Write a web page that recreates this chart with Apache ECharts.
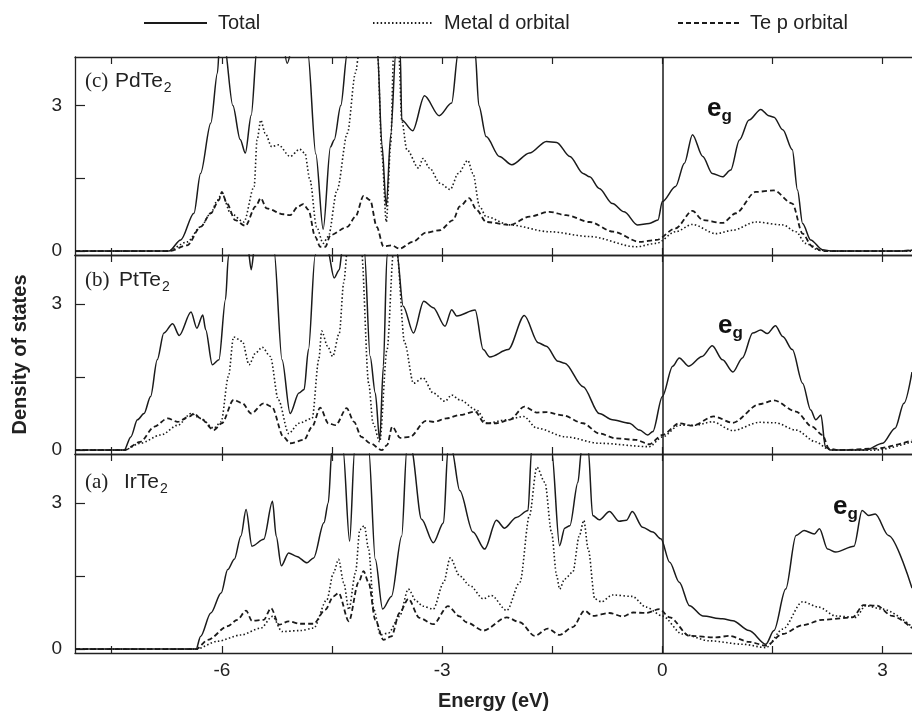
<!DOCTYPE html>
<html>
<head>
<meta charset="utf-8">
<script src="https://cdn.jsdelivr.net/npm/echarts@6/dist/echarts.min.js"></script>
<style>
  html, body { margin: 0; padding: 0; background: #fff; }
  #chart { width: 912px; height: 715px; }
</style>
</head>
<body>
<div id="chart"></div>
<script>
// --- data: [energy (eV), DOS] ---
var pdTotal = [[-8,0],[-6.72,0],[-6.56,0.23],[-6.38,0.78],[-6.29,1.6],[-6.15,2.64],[-6.06,3.67],[-6.02,4.6],[-5.99,5],[-5.97,4.3],[-5.85,3.0],[-5.75,2.3],[-5.68,2.02],[-5.6,2.8],[-5.52,4.2],[-5.4,5.5],[-5.2,4.6],[-5.11,3.87],[-5.0,4.5],[-4.9,5],[-4.83,4.1],[-4.72,2.0],[-4.62,0.45],[-4.52,2.15],[-4.47,2.29],[-4.38,3.0],[-4.29,4.1],[-4.1,6],[-3.88,4.1],[-3.82,2.2],[-3.76,0.92],[-3.7,2.4],[-3.63,4.1],[-3.6,5],[-3.57,4.1],[-3.55,2.7],[-3.4,2.48],[-3.24,3.2],[-3.04,2.79],[-2.87,3.05],[-2.78,4.1],[-2.7,5],[-2.55,4.1],[-2.5,3.0],[-2.4,2.36],[-2.22,1.95],[-2.05,1.78],[-1.81,2.02],[-1.58,2.26],[-1.44,2.24],[-1.26,1.95],[-1.08,1.6],[-0.99,1.53],[-0.86,1.29],[-0.68,0.98],[-0.52,0.81],[-0.34,0.54],[-0.18,0.57],[-0.06,0.64],[0,1.02],[0.18,1.33],[0.3,1.81],[0.41,2.4],[0.55,1.95],[0.68,1.6],[0.82,1.53],[0.93,1.67],[1.05,2.29],[1.18,2.7],[1.34,2.92],[1.45,2.79],[1.52,2.76],[1.64,2.5],[1.77,2.09],[1.84,1.26],[1.91,0.57],[2.02,0.23],[2.18,0.03],[2.31,0],[3.2,0],[3.4,0.02]];
var pdMetal = [[-8,0],[-6.74,0],[-6.47,0.19],[-6.29,0.5],[-6.15,0.78],[-6.06,1.05],[-6.0,1.19],[-5.88,0.78],[-5.7,0.6],[-5.56,1.33],[-5.52,2.29],[-5.47,2.7],[-5.41,2.43],[-5.32,2.15],[-5.23,2.19],[-5.07,1.95],[-4.94,2.1],[-4.87,2.02],[-4.8,1.47],[-4.71,0.5],[-4.62,0.16],[-4.55,0.3],[-4.43,1.26],[-4.29,2.43],[-4.18,3.67],[-4.13,4.1],[-4.0,5.5],[-3.88,4.1],[-3.82,2.0],[-3.76,0.6],[-3.7,2.2],[-3.66,4.1],[-3.62,5],[-3.59,4.1],[-3.55,2.7],[-3.48,2.09],[-3.32,1.71],[-3.26,1.91],[-3.17,1.71],[-3.03,1.4],[-2.89,1.27],[-2.78,1.6],[-2.65,1.87],[-2.58,1.6],[-2.49,0.92],[-2.4,0.71],[-2.08,0.54],[-1.54,0.4],[-0.99,0.3],[-0.36,0.09],[-0.08,0.16],[0.18,0.4],[0.41,0.55],[0.73,0.36],[0.96,0.43],[1.27,0.6],[1.64,0.54],[1.82,0.4],[1.95,0.16],[2.13,0.02],[2.3,0],[3.4,0]];
var pdTe = [[-8,0],[-6.72,0],[-6.47,0.12],[-6.29,0.5],[-6.15,0.78],[-6.04,1.05],[-6.0,1.22],[-5.93,0.98],[-5.82,0.64],[-5.68,0.52],[-5.54,0.92],[-5.47,1.09],[-5.39,0.88],[-5.16,0.76],[-5.07,0.74],[-4.96,0.92],[-4.89,0.97],[-4.82,0.85],[-4.73,0.3],[-4.66,0.09],[-4.59,0.09],[-4.52,0.33],[-4.29,0.5],[-4.18,0.71],[-4.07,1.14],[-3.98,1.05],[-3.89,0.5],[-3.8,0.1],[-3.69,0.12],[-3.58,0.05],[-3.4,0.19],[-3.22,0.38],[-3.03,0.43],[-2.85,0.64],[-2.76,0.92],[-2.63,1.09],[-2.53,0.85],[-2.4,0.6],[-2.08,0.54],[-1.81,0.71],[-1.54,0.81],[-1.31,0.74],[-0.99,0.6],[-0.67,0.4],[-0.31,0.19],[-0.08,0.23],[0.18,0.47],[0.41,0.83],[0.55,0.64],[0.82,0.58],[1.0,0.78],[1.27,1.22],[1.52,1.25],[1.77,0.98],[1.91,0.36],[2.04,0.1],[2.18,0],[3.2,0],[3.4,0.02]];

var ptTotal = [[-8,0],[-7.33,0],[-7.24,0.27],[-7.15,0.62],[-7.06,0.75],[-6.97,1.1],[-6.88,1.85],[-6.79,2.4],[-6.67,2.59],[-6.58,2.35],[-6.42,2.83],[-6.34,2.5],[-6.26,2.77],[-6.22,2.47],[-6.13,1.75],[-6.04,1.85],[-5.95,3.09],[-5.91,3.98],[-5.8,5.5],[-5.65,4.2],[-5.6,3.7],[-5.55,4.2],[-5.4,5.5],[-5.29,4.1],[-5.18,1.85],[-5.07,0.75],[-4.95,1.17],[-4.88,1.24],[-4.82,2.06],[-4.73,3.98],[-4.65,5],[-4.56,4.1],[-4.47,3.53],[-4.4,3.7],[-4.36,4.1],[-4.2,5.5],[-4.06,4.1],[-3.98,1.92],[-3.91,1.17],[-3.85,0.2],[-3.8,1.72],[-3.75,4.0],[-3.68,5],[-3.62,4.1],[-3.53,2.95],[-3.39,2.4],[-3.25,3.05],[-3.12,2.92],[-2.96,2.54],[-2.87,2.88],[-2.8,2.75],[-2.55,2.87],[-2.44,2.06],[-2.35,1.91],[-2.1,2.06],[-1.88,2.76],[-1.69,2.2],[-1.58,2.13],[-1.42,1.82],[-1.33,1.78],[-1.08,1.3],[-0.86,0.75],[-0.68,0.62],[-0.45,0.55],[-0.31,0.41],[-0.2,0.31],[-0.13,0.38],[0,1.1],[0.14,1.72],[0.23,1.89],[0.36,1.72],[0.54,1.92],[0.68,2.14],[0.82,1.85],[0.96,1.6],[1.09,1.89],[1.23,2.4],[1.34,2.46],[1.43,2.39],[1.54,2.55],[1.64,2.33],[1.77,2.06],[1.91,1.37],[2.02,0.82],[2.09,0.62],[2.16,0.72],[2.22,0.07],[2.29,0],[2.77,0],[3.0,0.14],[3.17,0.45],[3.29,0.96],[3.4,1.6]];
var ptMetal = [[-8,0],[-7.33,0],[-7.11,0.14],[-6.83,0.31],[-6.6,0.51],[-6.42,0.75],[-6.29,0.65],[-6.11,0.45],[-6.01,0.58],[-5.91,1.51],[-5.84,2.32],[-5.72,2.23],[-5.63,1.75],[-5.54,1.99],[-5.45,2.11],[-5.34,1.92],[-5.23,1.03],[-5.09,0.34],[-4.95,0.55],[-4.77,0.65],[-4.68,1.85],[-4.64,2.44],[-4.56,2.13],[-4.49,1.92],[-4.4,2.4],[-4.34,3.43],[-4.29,4.1],[-4.2,5],[-4.1,4.1],[-4.0,1.37],[-3.94,0.55],[-3.85,0.17],[-3.75,2.06],[-3.66,4.1],[-3.64,4.5],[-3.62,4.1],[-3.51,2.2],[-3.39,1.37],[-3.26,1.48],[-3.12,1.17],[-2.96,1.0],[-2.87,1.13],[-2.76,1.03],[-2.53,0.82],[-2.39,0.55],[-2.12,0.62],[-1.89,0.69],[-1.71,0.45],[-1.31,0.27],[-0.86,0.14],[-0.18,0.07],[0,0.27],[0.23,0.51],[0.45,0.51],[0.68,0.58],[0.96,0.4],[1.32,0.57],[1.54,0.56],[1.82,0.41],[2.09,0.17],[2.25,0.03],[2.3,0],[2.9,0],[3.4,0.17]];
var ptTe = [[-8,0],[-7.33,0],[-7.11,0.17],[-6.92,0.48],[-6.74,0.65],[-6.6,0.58],[-6.44,0.69],[-6.38,0.75],[-6.29,0.65],[-6.11,0.41],[-6.0,0.55],[-5.84,1.03],[-5.72,0.96],[-5.6,0.75],[-5.43,0.96],[-5.32,0.89],[-5.16,0.27],[-5.07,0.14],[-4.88,0.21],[-4.77,0.48],[-4.66,0.87],[-4.55,0.55],[-4.45,0.51],[-4.3,0.86],[-4.2,0.58],[-4.1,0.27],[-3.98,0.14],[-3.82,0],[-3.75,0.1],[-3.68,0.48],[-3.57,0.25],[-3.44,0.27],[-3.22,0.6],[-3.11,0.58],[-2.94,0.65],[-2.76,0.72],[-2.55,0.79],[-2.42,0.55],[-2.26,0.55],[-2.08,0.62],[-1.88,0.89],[-1.71,0.77],[-1.58,0.78],[-1.35,0.71],[-1.08,0.55],[-0.86,0.34],[-0.63,0.24],[-0.36,0.21],[-0.18,0.12],[0,0.31],[0.23,0.55],[0.41,0.5],[0.7,0.69],[0.96,0.56],[1.32,0.94],[1.52,1.02],[1.82,0.79],[2.04,0.48],[2.18,0.31],[2.27,0.03],[2.4,0],[2.9,0.03],[3.4,0.2]];

var irTotal = [[-8,0],[-6.35,0],[-6.29,0.26],[-6.15,0.74],[-6.01,1.15],[-5.92,1.63],[-5.83,1.84],[-5.74,2.32],[-5.67,2.86],[-5.59,2.11],[-5.43,2.25],[-5.31,3.03],[-5.26,2.32],[-5.19,1.71],[-5.09,1.97],[-4.98,1.9],[-4.84,1.77],[-4.75,1.87],[-4.61,2.59],[-4.55,3.0],[-4.5,4.1],[-4.42,5],[-4.35,4.1],[-4.26,2.21],[-4.19,4.1],[-4.1,5.5],[-4.0,4.1],[-3.91,1.84],[-3.81,0.82],[-3.69,1.08],[-3.55,2.32],[-3.48,4.1],[-3.45,4.5],[-3.42,4.1],[-3.28,2.66],[-3.12,2.18],[-2.98,2.59],[-2.92,4.1],[-2.9,4.5],[-2.87,4.1],[-2.76,3.25],[-2.58,2.4],[-2.42,2.05],[-2.26,2.64],[-2.15,2.48],[-1.99,2.7],[-1.83,2.84],[-1.78,4.1],[-1.65,5.5],[-1.51,4.1],[-1.4,2.12],[-1.33,2.48],[-1.26,2.53],[-1.15,3.42],[-1.1,4.1],[-1.05,4.5],[-1.01,4.1],[-0.95,2.74],[-0.86,2.65],[-0.72,2.82],[-0.59,2.62],[-0.49,2.64],[-0.41,2.82],[-0.27,2.5],[-0.13,2.4],[-0.02,2.26],[0.1,1.78],[0.23,1.37],[0.37,0.89],[0.55,0.68],[0.82,0.62],[0.96,0.58],[1.18,0.38],[1.41,0.1],[1.52,0.38],[1.68,1.23],[1.82,2.33],[1.93,2.43],[2.07,2.36],[2.14,2.47],[2.25,2.05],[2.36,1.99],[2.61,2.11],[2.72,2.84],[2.81,2.74],[2.9,2.77],[3.08,2.33],[3.4,1.25]];
var irMetal = [[-8,0],[-6.35,0],[-6.06,0.16],[-5.74,0.29],[-5.47,0.43],[-5.31,0.67],[-5.18,0.36],[-4.93,0.38],[-4.75,0.43],[-4.57,1.01],[-4.48,1.56],[-4.41,1.84],[-4.34,1.36],[-4.27,0.81],[-4.18,1.56],[-4.12,2.45],[-4.06,2.53],[-4.0,2.04],[-3.93,0.81],[-3.84,0.29],[-3.73,0.33],[-3.58,0.67],[-3.46,1.23],[-3.35,0.98],[-3.26,0.88],[-3.12,0.82],[-2.98,1.36],[-2.89,1.87],[-2.76,1.5],[-2.62,1.3],[-2.44,1.03],[-2.33,1.1],[-2.12,0.79],[-1.94,1.37],[-1.81,2.74],[-1.71,3.73],[-1.6,3.42],[-1.51,2.4],[-1.44,1.51],[-1.4,1.23],[-1.33,1.44],[-1.22,1.58],[-1.13,2.33],[-1.07,2.64],[-1.01,2.05],[-0.92,1.03],[-0.83,0.97],[-0.68,1.11],[-0.41,1.08],[-0.22,0.86],[0,0.68],[0.27,0.31],[0.64,0.17],[1.09,0.1],[1.41,0.03],[1.64,0.41],[1.91,0.97],[2.13,0.86],[2.36,0.68],[2.63,0.65],[2.77,0.89],[3.0,0.82],[3.4,0.46]];
var irTe = [[-8,0],[-6.35,0],[-6.19,0.19],[-5.92,0.47],[-5.79,0.6],[-5.67,0.79],[-5.59,0.58],[-5.43,0.6],[-5.33,0.84],[-5.22,0.5],[-5.09,0.57],[-4.93,0.52],[-4.75,0.52],[-4.59,0.81],[-4.48,1.08],[-4.41,1.15],[-4.27,0.57],[-4.14,1.36],[-4.07,1.6],[-4.0,1.36],[-3.91,0.6],[-3.8,0.19],[-3.69,0.26],[-3.58,0.74],[-3.46,1.03],[-3.31,0.64],[-3.12,0.51],[-2.92,0.88],[-2.76,0.67],[-2.67,0.55],[-2.44,0.38],[-2.12,0.65],[-1.94,0.55],[-1.74,0.27],[-1.56,0.42],[-1.4,0.29],[-1.22,0.45],[-1.06,0.79],[-0.95,0.68],[-0.72,0.74],[-0.54,0.67],[-0.4,0.75],[-0.22,0.74],[-0.04,0.82],[0.1,0.65],[0.37,0.27],[0.73,0.24],[0.91,0.27],[1.18,0.15],[1.41,0.07],[1.64,0.31],[1.91,0.49],[2.18,0.6],[2.59,0.65],[2.74,0.9],[2.92,0.89],[3.13,0.68],[3.4,0.43]];

var energyTicks = [-7.5, -6, -4.5, -3, -1.5, 0, 1.5, 3];
var energyLabels = [-6, -3, 0, 3];
var dosTicks = [0, 1.5, 3];
var dosLabels = [0, 3];
var seriesNames = ['Total', 'Metal d orbital', 'Te p orbital'];

var panels = [
  { tag: '(c)', formula: 'PdTe', data: [pdTotal, pdMetal, pdTe] },
  { tag: '(b)', formula: 'PtTe', data: [ptTotal, ptMetal, ptTe] },
  { tag: '(a)', formula: 'IrTe', data: [irTotal, irMetal, irTe] }
];

var ink = '#1a1a1a';
var sans = 'Liberation Sans, Arial, sans-serif';
var gridTops = [57, 255, 454];
var gridHeights = [198, 199, 199];
var lineStyles = [
  { color: ink, width: 1.5, type: 'solid' },
  { color: ink, width: 1.6, type: [1.5, 2.3] },
  { color: ink, width: 1.8, type: [5, 3] }
];

// text width helper for placing subscripts
var measureCtx = document.createElement('canvas').getContext('2d');
function textWidth(str, font) {
  measureCtx.font = font;
  return measureCtx.measureText(str).width;
}

var grids = [], xAxes = [], yAxes = [], series = [], graphics = [];

panels.forEach(function(p, i) {
  grids.push({ left: 75, right: -1, top: gridTops[i], height: gridHeights[i] });

  var last = i === panels.length - 1;
  xAxes.push({
    type: 'value', gridIndex: i, min: -8, max: 3.4, position: 'bottom',
    axisLine: { show: true, onZero: false, lineStyle: { color: '#222', width: 1.3 } },
    axisTick: { show: true, inside: true, length: 7, customValues: energyTicks, lineStyle: { color: '#222', width: 1.2 } },
    axisLabel: { show: last, customValues: energyLabels, color: '#222', fontSize: 19, fontFamily: sans, margin: 8 },
    splitLine: { show: false },
    name: last ? 'Energy (eV)' : '',
    nameLocation: 'middle', nameGap: 38,
    nameTextStyle: { color: '#222', fontSize: 20, fontWeight: 'bold', fontFamily: sans }
  });
  xAxes.push({
    type: 'value', gridIndex: i, min: -8, max: 3.4, position: 'top',
    axisLine: { show: true, onZero: false, lineStyle: { color: '#222', width: 1.3 } },
    axisTick: { show: true, inside: true, length: 7, customValues: energyTicks, lineStyle: { color: '#222', width: 1.2 } },
    axisLabel: { show: false },
    splitLine: { show: false }
  });
  yAxes.push({
    type: 'value', gridIndex: i, min: -0.08, max: 4,
    axisLine: { show: true, onZero: false, lineStyle: { color: '#222', width: 1.3 } },
    axisTick: { show: true, inside: true, length: 10, customValues: dosTicks, lineStyle: { color: '#222', width: 1.2 } },
    axisLabel: { customValues: dosLabels, color: '#222', fontSize: 19, fontFamily: sans, margin: 13 },
    splitLine: { show: false },
    name: i === 1 ? 'Density of states' : '',
    nameLocation: 'middle', nameGap: 45,
    nameTextStyle: { color: '#222', fontSize: 20, fontWeight: 'bold', fontFamily: sans }
  });

  p.data.forEach(function(d, k) {
    var s = {
      name: seriesNames[k], type: 'line', xAxisIndex: 2 * i, yAxisIndex: i,
      data: d, symbol: 'none', showSymbol: false, smooth: 0.3, smoothMonotone: 'x',
      lineStyle: lineStyles[k], itemStyle: { color: ink }, z: 3 - k
    };
    if (k === 0) {
      s.markLine = {
        silent: true, symbol: ['none', 'none'], label: { show: false },
        lineStyle: { color: ink, width: 1.5, type: 'solid' },
        data: [{ xAxis: 0 }]
      };
    }
    series.push(s);
  });
});

// panel tags (with subscript) and e_g marks
var formulaFont = '21px "Liberation Sans", Arial, sans-serif';
var subFont = '14px "Liberation Sans", Arial, sans-serif';
var eFont = 'bold 26px "Liberation Sans", Arial, sans-serif';
var gFont = 'bold 17px "Liberation Sans", Arial, sans-serif';
var tagBase = [88, 287, 489];
var formulaX = [115, 119, 124];
var egX = [707, 718, 833];
var egBase = [117, 334, 515];
panels.forEach(function(p, i) {
  var top = tagBase[i] - 17;
  graphics.push({ type: 'text', left: 85, top: top, style: { text: p.tag, fill: '#222', font: '21px "Liberation Serif", serif' } });
  graphics.push({ type: 'text', left: formulaX[i], top: top, style: { text: p.formula, fill: '#222', font: formulaFont } });
  graphics.push({ type: 'text', left: formulaX[i] + textWidth(p.formula, formulaFont) + 1, top: tagBase[i] - 7,
    style: { text: '2', fill: '#222', font: subFont } });
  graphics.push({ type: 'text', left: egX[i], top: egBase[i] - 21, style: { text: 'e', fill: '#111', font: eFont } });
  graphics.push({ type: 'text', left: egX[i] + textWidth('e', eFont), top: egBase[i] + 4 - 13,
    style: { text: 'g', fill: '#111', font: gFont } });
});

var legendBase = { top: 13, padding: 0, itemHeight: 14, selectedMode: false,
  itemStyle: { opacity: 0 },
  textStyle: { color: '#222', fontSize: 20, fontFamily: sans, padding: [0, 0, 0, 6] } };

var chart = echarts.init(document.getElementById('chart'), null, { renderer: 'canvas' });
chart.setOption({
  animation: false,
  backgroundColor: '#fff',
  legend: [
    Object.assign({}, legendBase, { data: ['Total'], left: 143, itemWidth: 63 }),
    Object.assign({}, legendBase, { data: ['Metal d orbital'], left: 372, itemWidth: 60 }),
    Object.assign({}, legendBase, { data: ['Te p orbital'], left: 677, itemWidth: 61 })
  ],
  grid: grids,
  xAxis: xAxes,
  yAxis: yAxes,
  series: series,
  graphic: graphics
});
window.addEventListener('resize', function() { chart.resize(); });
</script>
</body>
</html>
